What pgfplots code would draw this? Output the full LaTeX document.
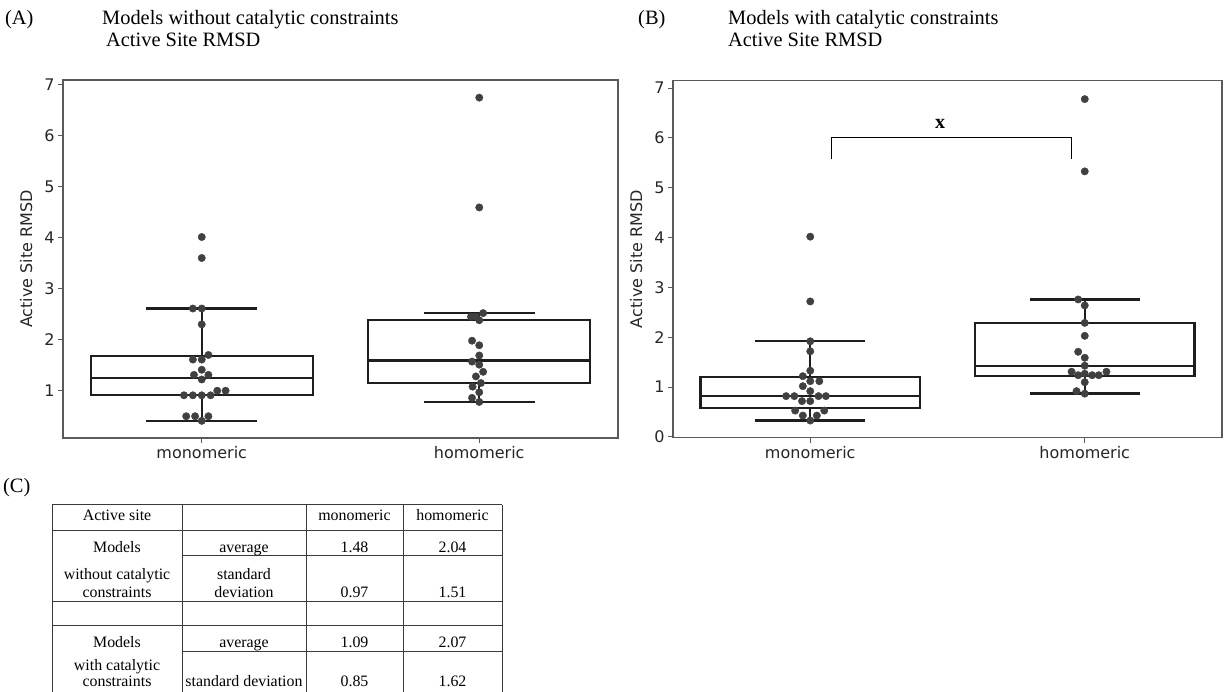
\documentclass[border=0pt]{standalone}
\usepackage{fontspec}
\setmainfont{Liberation Serif}
\newfontfamily\dejavu{DejaVu Sans}
\usepackage{pgfplots}
\pgfplotsset{compat=1.18}
\usepgfplotslibrary{statistics}
\definecolor{dot}{HTML}{404040}
\definecolor{framec}{HTML}{5A5A5A}
\definecolor{boxc}{HTML}{1E1E1E}
\definecolor{txt}{HTML}{262626}
\definecolor{tline}{HTML}{3A3A3A}

\pgfplotsset{
  panel/.style={
    scale only axis,
    xmin=-0.5, xmax=1.5,
    xtick={0,1}, xticklabels={monomeric,homomeric},
    ytick={0,1,2,3,4,5,6,7},
    tick align=outside, xtick pos=bottom, ytick pos=left,
    major tick length=5pt,
    every tick/.style={framec, line width=1pt},
    axis line style={framec, line width=1.1pt},
    tick label style={font=\dejavu\fontsize{16}{19}\selectfont, text=txt},
    /pgf/number format/assume math mode=true,
    ylabel={Active Site RMSD},
    ylabel style={font=\dejavu\fontsize{16}{19}\selectfont, text=txt},
    ylabel shift=5pt,
    clip=false,
    boxplot/draw direction=y,
  },
  bx/.style={boxc, line width=2.3pt, fill=white, mark=none,
    boxplot prepared={#1, draw direction=y, box extend=0.8, whisker extend=0.4}},
  dots/.style={only marks, mark=*, mark size=3.7pt, color=dot, mark options={draw=dot, fill=dot}},
}

\begin{document}
\begin{tikzpicture}
\path[use as bounding box] (0pt,0pt) rectangle (1225pt,692pt);

% Titles
\begin{scope}[every node/.style={font=\fontsize{20.4}{24}\selectfont, anchor=base west, inner sep=0pt}]
\node at (5pt,667pt) {(A)};
\node at (102pt,667pt) {Models without catalytic constraints};
\node at (106pt,645pt) {Active Site RMSD};
\node at (638pt,667pt) {(B)};
\node at (728pt,667pt) {Models with catalytic constraints};
\node at (728pt,645pt) {Active Site RMSD};
\node at (3pt,199pt) {(C)};
\end{scope}

% Panel A
\begin{axis}[panel, at={(63pt,254pt)}, anchor=south west, width=555pt, height=358pt,
  ymin=0.074, ymax=7.086]
\addplot[bx={draw position=0, lower whisker=0.41, lower quartile=0.91, median=1.25, upper quartile=1.68, upper whisker=2.61}] coordinates {};
\addplot[bx={draw position=1, lower whisker=0.78, lower quartile=1.15, median=1.59, upper quartile=2.38, upper whisker=2.52}] coordinates {};
\addplot[dots] coordinates {
(0,4.01) (0,3.60) (-0.032,2.61) (0,2.61) (0,2.30) (0.024,1.70)
(-0.032,1.61) (0,1.61) (0,1.41) (-0.028,1.31) (0.024,1.31) (0,1.22)
(0.056,1.00) (0.086,1.00) (-0.064,0.91) (-0.032,0.91) (0,0.91) (0.032,0.91)
(-0.056,0.50) (-0.024,0.50) (0.024,0.50) (0,0.41)
};
\addplot[dots] coordinates {
(1,6.74) (1,4.59) (1.014,2.52) (0.970,2.45) (0.988,2.45) (1,2.38)
(0.974,1.98) (1,1.89) (1,1.69) (0.974,1.57) (1,1.51) (1.014,1.37)
(0.988,1.28) (1.006,1.15) (0.976,1.08) (1,0.97) (0.974,0.86) (1,0.78)
};
\end{axis}

% Panel B
\begin{axis}[panel, at={(673pt,254.3pt)}, anchor=south west, width=549pt, height=357pt,
  ymin=-0.014, ymax=7.15]
\addplot[bx={draw position=0, lower whisker=0.33, lower quartile=0.58, median=0.82, upper quartile=1.20, upper whisker=1.93}] coordinates {};
\addplot[bx={draw position=1, lower whisker=0.87, lower quartile=1.22, median=1.42, upper quartile=2.29, upper whisker=2.76}] coordinates {};
\addplot[dots] coordinates {
(0,4.02) (0,2.72) (0,1.92) (0,1.72) (0,1.33) (-0.027,1.22)
(0,1.12) (0.033,1.12) (-0.027,1.02) (0,0.92)
(-0.088,0.82) (-0.058,0.82) (0.030,0.82) (0.057,0.82)
(-0.030,0.72) (0,0.72) (-0.055,0.53) (0.051,0.53)
(-0.027,0.43) (0.024,0.43) (0,0.33)
};
\addplot[dots] coordinates {
(1,6.78) (1,5.33) (0.976,2.76) (1,2.64) (1,2.29) (1,2.03)
(0.976,1.71) (1,1.59) (1,1.43) (0.952,1.31) (1.079,1.31)
(0.976,1.24) (1.027,1.24) (1.051,1.24) (1,1.27) (1,1.10)
(0.970,0.92) (1,0.87)
};
\draw[black, line width=1pt] (axis cs:0.076,5.57) -- (axis cs:0.076,6.0) -- (axis cs:0.95,6.0) -- (axis cs:0.95,5.57);
\node[font=\bfseries\fontsize{20}{24}\selectfont, anchor=base] at (axis cs:0.473,6.2) {x};
\end{axis}

% Table (C)
\begin{scope}[tline, line width=1pt]
\draw (52pt,187pt) -- (502pt,187pt);
\draw (52pt,161pt) -- (502pt,161pt);
\draw (182pt,136pt) -- (502pt,136pt);
\draw (52pt,90pt) -- (502pt,90pt);
\draw (52pt,66pt) -- (502pt,66pt);
\draw (182pt,40pt) -- (502pt,40pt);
\foreach \xx in {52,182,306,403,502} { \draw (\xx pt,187pt) -- (\xx pt,0pt); }
\end{scope}
\begin{scope}[every node/.style={font=\fontsize{15.9}{19}\selectfont, anchor=base, inner sep=0pt, text=black}]
\node at (117pt,171pt) {Active site};
\node at (354.5pt,171pt) {monomeric};
\node at (452.5pt,171pt) {homomeric};
\node at (117pt,139pt) {Models};
\node at (244pt,139pt) {average};
\node at (354.5pt,139pt) {1.48};
\node at (452.5pt,139pt) {2.04};
\node at (117pt,112pt) {without catalytic};
\node at (117pt,94pt) {constraints};
\node at (244pt,112pt) {standard};
\node at (244pt,94pt) {deviation};
\node at (354.5pt,94pt) {0.97};
\node at (452.5pt,94pt) {1.51};
\node at (117pt,44pt) {Models};
\node at (244pt,44pt) {average};
\node at (354.5pt,44pt) {1.09};
\node at (452.5pt,44pt) {2.07};
\node at (117pt,21pt) {with catalytic};
\node at (117pt,5pt) {constraints};
\node at (244pt,5pt) {standard deviation};
\node at (354.5pt,5pt) {0.85};
\node at (452.5pt,5pt) {1.62};
\end{scope}
\end{tikzpicture}
\end{document}
